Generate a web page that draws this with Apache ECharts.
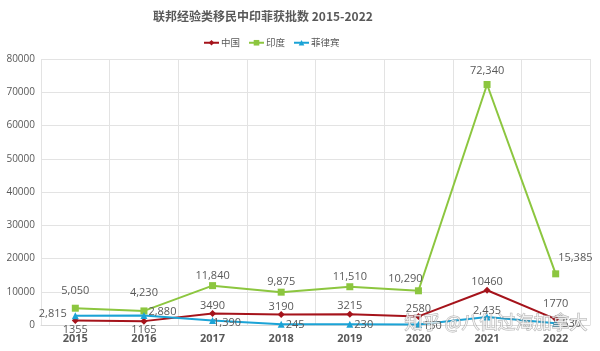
<!DOCTYPE html>
<html><head><meta charset="utf-8">
<script src="https://cdn.jsdelivr.net/npm/echarts@6/dist/echarts.min.js"></script>
<style>html,body{margin:0;padding:0;background:#fff}#c{width:600px;height:351px}</style>
</head><body><div id="c"></div>
<script>
const years = ['2015','2016','2017','2018','2019','2020','2021','2022'];
const china = [1355, 1165, 3490, 3190, 3215, 2580, 10460, 1770];
const india = [5050, 4230, 11840, 9875, 11510, 10290, 72340, 15385];
const philippines = [2815, 2880, 1390, 245, 230, 150, 2435, 530];
const yTicks = [0, 10000, 20000, 30000, 40000, 50000, 60000, 70000, 80000];

const FONT = '"Noto Sans CJK SC", "Open Sans", sans-serif';
const lblBase = {show: true, color: '#595959', fontSize: 11, fontFamily: '"Open Sans", sans-serif'};
const fmtComma = v => v.toLocaleString('en-US');

const chinaPos = ['bottom','bottom','top','top','top','top','top','top'];
const chinaOff = [[0,-5],[0,-5],[0,6],[0,6],[0,6],[0,6],[0,6],[0,-1]];
const indiaPos = ['top','top','top','top','top','top','top','right'];
const indiaOff = [[0,-3],[0,-4],[0,4],[0,4],[0,4],[-13,2],[0,0],[-6,-16]];
const phPos = ['left','right','right','right','right','right','top','right'];
const phOff = [[0,-2],[-4,-4],[-8,2],[-4,1],[-4,1],[-4,1],[0,8],[-2,1]];

function mk(values, pos, off, fmt) {
  return values.map((v, i) => ({
    value: v,
    label: Object.assign({}, lblBase, {position: pos[i], offset: off[i], formatter: () => fmt(v)})
  }));
}

const chart = echarts.init(document.getElementById('c'));
chart.setOption({
  backgroundColor: '#fff',
  animation: false,
  title: {
    text: '联邦经验类移民中印菲获批数 2015-2022',
    left: 148, top: 5,
    textStyle: {fontFamily: FONT, fontSize: 12, fontWeight: 'bold', color: '#595959'}
  },
  legend: {
    top: 33, left: 198, itemWidth: 15, itemHeight: 7, itemGap: 8,
    textStyle: {fontFamily: FONT, fontSize: 9.5, color: '#595959', padding: [0,0,0,-3]},
    data: ['中国','印度','菲律宾']
  },
  grid: {left: 41, right: 10, top: 59, bottom: 26},
  xAxis: {
    type: 'category', data: years, boundaryGap: true,
    axisLine: {show: true, lineStyle: {color: '#d9d9d9'}},
    axisTick: {show: false},
    splitLine: {show: true, lineStyle: {color: '#e3e3e3'}},
    axisLabel: {color: '#595959', fontSize: 11, fontWeight: 'bold', fontFamily: '"Open Sans", sans-serif', margin: 8, interval: 0}
  },
  yAxis: {
    type: 'value', min: 0, max: 80000, interval: 10000,
    axisLine: {show: false}, axisTick: {show: false},
    splitLine: {show: true, lineStyle: {color: '#e3e3e3'}},
    axisLabel: {color: '#595959', fontSize: 10, fontFamily: '"Open Sans", sans-serif', margin: 6,
      formatter: v => yTicks.includes(v) ? String(v) : ''}
  },
  series: [
    {name: '中国', type: 'line', symbol: 'diamond', symbolSize: 7,
     itemStyle: {color: '#A5131B'}, lineStyle: {width: 2, color: '#A5131B'},
     data: mk(china, chinaPos, chinaOff, v => String(v)), z: 3},
    {name: '印度', type: 'line', symbol: 'rect', symbolSize: 7,
     itemStyle: {color: '#8CC63F'}, lineStyle: {width: 2, color: '#8CC63F'},
     data: mk(india, indiaPos, indiaOff, fmtComma), z: 2},
    {name: '菲律宾', type: 'line', symbol: 'triangle', symbolSize: 7,
     itemStyle: {color: '#1BA3D6'}, lineStyle: {width: 2, color: '#1BA3D6'},
     data: mk(philippines, phPos, phOff, fmtComma), z: 4}
  ],
  graphic: [{
    type: 'text', left: 404, top: 313, z: 100,
    style: {text: '知乎 @八仙过海加拿大', fontFamily: FONT, fontSize: 18,
      fill: 'rgba(255,255,255,0.75)', stroke: 'rgba(120,120,120,0.6)', lineWidth: 1}
  }]
});
</script></body></html>
